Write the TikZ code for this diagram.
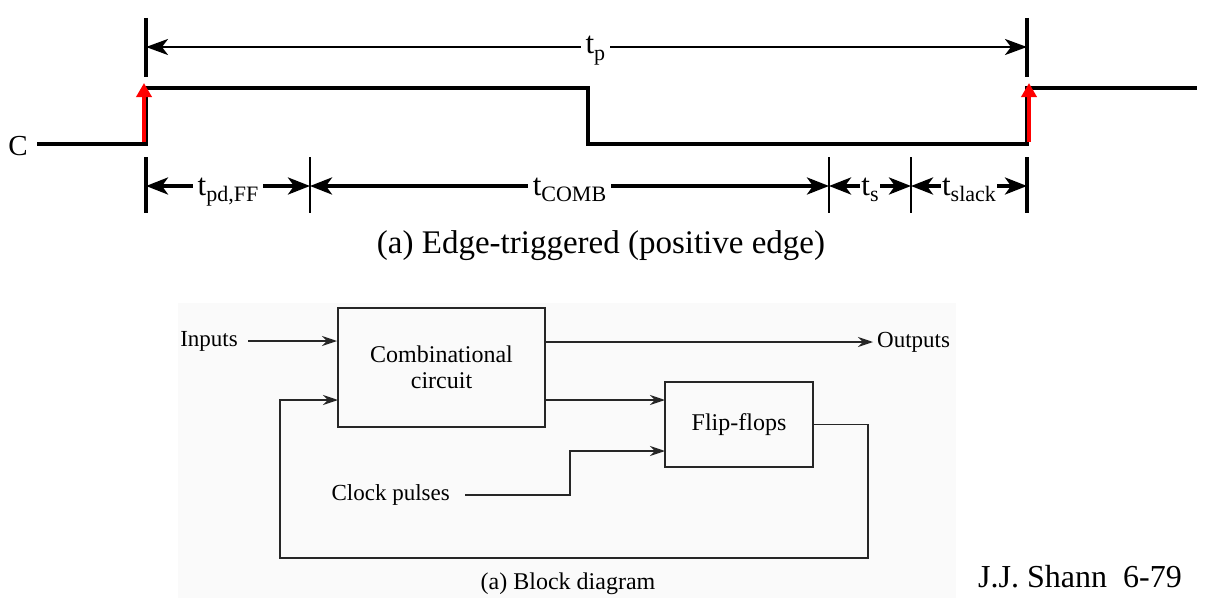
\documentclass[tikz,border=0pt]{standalone}
\usepackage{fontspec}
\setmainfont{Liberation Serif}
\usetikzlibrary{arrows.meta,positioning}

% t 加下标
\newcommand{\tsub}[2][22]{t\raisebox{-6pt}{\fontsize{#1}{#1}\selectfont #2}}

\begin{document}
\begin{tikzpicture}[x=1pt, y=-1pt, >=Stealth,
  wave/.style={line width=3.5pt},
  bigbar/.style={line width=3.5pt},
  smallbar/.style={line width=2.2pt},
  dimtop/.style={line width=2.5pt, {Stealth[length=22pt,width=16pt,inset=6pt]}-{Stealth[length=22pt,width=16pt,inset=6pt]}},
  dimlow/.style={line width=3.5pt, {Stealth[length=22pt,width=17pt,inset=6pt]}-{Stealth[length=22pt,width=17pt,inset=6pt]}},
  edgearrow/.style={red, line width=4.5pt, -{Triangle[length=14pt,width=15pt]}},
  dimlbl/.style={anchor=base, fill=white, inner xsep=5pt, inner ysep=1pt, font=\fontsize{31}{33}\selectfont},
  block/.style={draw=black!85, line width=2pt, align=center, font=\fontsize{24}{26}\selectfont},
  wire/.style={draw=black!85, line width=1.3pt},
  wirearrow/.style={wire, -{Stealth[length=15pt,width=10pt,inset=5pt]}},
  bklbl/.style={inner sep=0pt, font=\fontsize{23}{26}\selectfont}]

\useasboundingbox (0,0) rectangle (1205,602);

% ================= 上图：时序 =================
% 时钟波形
\draw[wave] (37,144) -- (146,144) -- (146,88) -- (588,88) -- (588,144) -- (1027,144) -- (1027,88) -- (1197,88);
\node[anchor=base, font=\fontsize{29}{30}\selectfont] (clk) at (18,155) {C};

% 上升沿
\draw[edgearrow] (144,142) -- (144,83);
\draw[edgearrow] (1029,142) -- (1029,83);

% 周期 t_p
\draw[bigbar] (146,18) -- (146,77);
\draw[bigbar] (1027,18) -- (1027,77);
\draw[dimtop] (146,47) -- (1027,47) node[dimlbl, pos=0.51, yshift=-7pt] (tp) {\tsub{p}};

% 下方各段时间
\coordinate (e0) at (146,186);
\coordinate (e1) at (310,186);
\coordinate (e2) at (829,186);
\coordinate (e3) at (911,186);
\coordinate (e4) at (1027,186);
\foreach \x in {146,1027} \draw[bigbar] (\x,157) -- (\x,213);
\foreach \x in {310,829,911} \draw[smallbar] (\x,157) -- (\x,213);
\draw[dimlow] (e0) -- (e1) node[dimlbl, midway, yshift=-9pt] (tpd) {\tsub{pd,FF}};
\draw[dimlow] (e1) -- (e2) node[dimlbl, midway, yshift=-9pt] (tcomb) {\tsub{COMB}};
\draw[dimlow] (e2) -- (e3) node[dimlbl, midway, yshift=-9pt, inner xsep=1pt] (ts) {\tsub{s}};
\draw[dimlow] (e3) -- (e4) node[dimlbl, midway, yshift=-9pt, inner xsep=1pt] (tslack) {\tsub{slack}};

\node[anchor=base, font=\fontsize{33}{36}\selectfont] (capa) at (601,253) {(a) Edge-triggered (positive edge)};

% ================= 下图：方框图 =================
\fill[black!2] (178,303) rectangle (956,598);

\node[block, minimum width=207pt, minimum height=119pt] (comb) at (441.5,367.5) {Combinational\\circuit};
\node[block, minimum width=148pt, minimum height=85pt] (ff) at (739,424.5) {Flip-flops};

\node[bklbl, anchor=east] (inputs) at (238,341) {Inputs};
\node[bklbl, anchor=west] (outputs) at (877,342) {Outputs};
\node[bklbl, anchor=east] (clock) at (450,495) {Clock pulses};

% 输入端
\coordinate (din) at (665,400);
\coordinate (cin) at (665,451);
\coordinate (fbin) at (338,400);

\draw[wirearrow] ([xshift=10pt]inputs.east) -- (inputs.east -| comb.west);
\draw[wirearrow] (comb.east |- outputs.west) -- ([xshift=-4pt]outputs.west);
\draw[wirearrow] (comb.east |- din) -- (din);
\draw[wirearrow] ([xshift=15pt]clock.east) -- (570,495) |- (cin);
% 反馈
\draw[wirearrow] (ff.east) -| (868,558) -- (280,558) |- (fbin);

\node[anchor=base, font=\fontsize{24}{26}\selectfont] (capb) at (568,589) {(a) Block diagram};
\node[anchor=base, font=\fontsize{32}{34}\selectfont] (sign) at (1080,587) {J.J. Shann\ \ 6-79};

\end{tikzpicture}
\end{document}
